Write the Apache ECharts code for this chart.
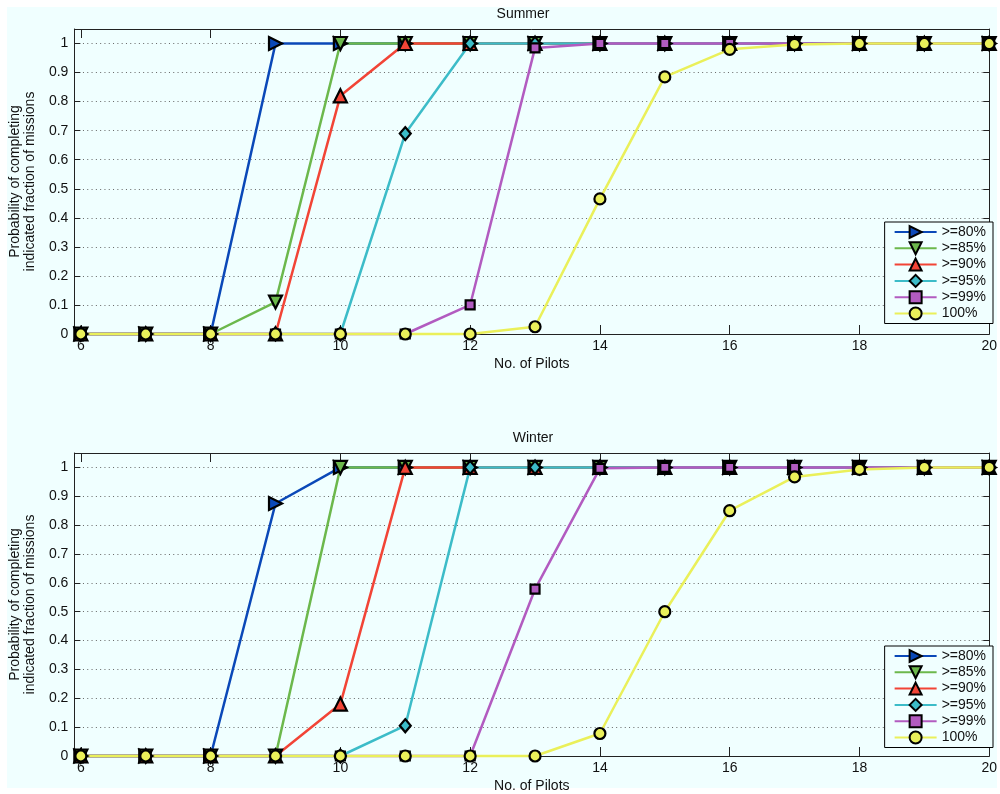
<!DOCTYPE html>
<html>
<head>
<meta charset="utf-8">
<script src="https://cdn.jsdelivr.net/npm/echarts@6/dist/echarts.min.js"></script>
<style>html,body{margin:0;padding:0;background:#fff;}#c{width:1000px;height:794px;}</style>
</head>
<body>
<div id="c"></div>
<script>
const pilots = [6,7,8,9,10,11,12,13,14,15,16,17,18,19,20];
const seriesNames = ['>=80%','>=85%','>=90%','>=95%','>=99%','100%'];
const xTicks = [6,8,10,12,14,16,18,20];
// Summer
const summer80  = [0,0,0,1,1,1,1,1,1,1,1,1,1,1,1];
const summer85  = [0,0,0,0.11,1,1,1,1,1,1,1,1,1,1,1];
const summer90  = [0,0,0,0,0.82,1,1,1,1,1,1,1,1,1,1];
const summer95  = [0,0,0,0,0,0.69,1,1,1,1,1,1,1,1,1];
const summer99  = [0,0,0,0,0,0,0.10,0.985,1,1,1,1,1,1,1];
const summer100 = [0,0,0,0,0,0,0,0.025,0.465,0.885,0.98,0.997,1,1,1];
// Winter
const winter80  = [0,0,0,0.875,1,1,1,1,1,1,1,1,1,1,1];
const winter85  = [0,0,0,0,1,1,1,1,1,1,1,1,1,1,1];
const winter90  = [0,0,0,0,0.18,1,1,1,1,1,1,1,1,1,1];
const winter95  = [0,0,0,0,0,0.105,1,1,1,1,1,1,1,1,1];
const winter99  = [0,0,0,0,0,0,0,0.578,0.997,1,1,1,1,1,1];
const winter100 = [0,0,0,0,0,0,0,0,0.078,0.50,0.85,0.967,0.993,1,1];

const colors = ['#0a48b8','#6cb84c','#f24436','#3cbcc8','#b25bc0','#eaf05a'];
const symbols = [
  {symbol:'triangle', rotate:-90, size:[13,13]},
  {symbol:'triangle', rotate:180, size:[13,13]},
  {symbol:'triangle', rotate:0, size:[13,13]},
  {symbol:'diamond', rotate:0, size:[11,13]},
  {symbol:'rect', rotate:0, size:[9,9]},
  {symbol:'circle', rotate:0, size:[11,11]}
];
const FONT = 'Liberation Sans';
const BG = '#f0ffff';
const AX = '#222';

const chart = echarts.init(document.getElementById('c'), null, {renderer:'canvas'});

const grids = [
  {left:68, top:29, width:925, height:305},
  {left:68, top:453, width:925, height:306}
];

function mkX(gi){
  return [
    {type:'value', gridIndex:gi, min:5.9, max:20, position:'bottom',
     name:'No. of Pilots', nameLocation:'middle', nameGap:23,
     nameTextStyle:{fontFamily:FONT, fontSize:14, color:'#111'},
     axisLine:{show:true, onZero:false, lineStyle:{color:AX, width:1}},
     axisTick:{show:true, inside:true, length:9, lineStyle:{color:AX}, customValues:xTicks},
     axisLabel:{show:true, margin:5, fontFamily:FONT, fontSize:14, color:'#111', customValues:xTicks},
     splitLine:{show:false}},
    {type:'value', gridIndex:gi, min:5.9, max:20, position:'top',
     axisLine:{show:true, onZero:false, lineStyle:{color:AX, width:1}},
     axisTick:{show:true, inside:true, length:9, lineStyle:{color:AX}, customValues:xTicks},
     axisLabel:{show:false, customValues:xTicks},
     splitLine:{show:false}}
  ];
}
function mkY(gi){
  return [
    {type:'value', gridIndex:gi, min:0, max:1.05, interval:0.1, position:'left',
     name:'Probability of completing\nindicated fraction of missions', nameLocation:'middle', nameGap:33,
     nameTextStyle:{fontFamily:FONT, fontSize:14, color:'#111', lineHeight:15},
     axisLine:{show:true, onZero:false, lineStyle:{color:AX, width:1}},
     axisTick:{show:true, inside:true, length:6, lineStyle:{color:AX}},
     axisLabel:{margin:6, fontFamily:FONT, fontSize:14, color:'#111',
       formatter:function(v){ return v > 1.01 ? '' : String(Math.round(v*10)/10); }},
     splitLine:{show:true, lineStyle:{color:'#666', width:1, type:[1,3.3]}}},
    {type:'value', gridIndex:gi, min:0, max:1.05, interval:0.1, position:'right',
     axisLine:{show:true, onZero:false, lineStyle:{color:AX, width:1}},
     axisTick:{show:true, inside:true, length:6, lineStyle:{color:AX}},
     axisLabel:{show:false},
     splitLine:{show:false}}
  ];
}

const dataSets = [
  [summer80, summer85, summer90, summer95, summer99, summer100],
  [winter80, winter85, winter90, winter95, winter99, winter100]
];

const series = [];
dataSets.forEach(function(set, gi){
  set.forEach(function(vals, si){
    series.push({
      type:'line', name:seriesNames[si],
      xAxisIndex: gi*2, yAxisIndex: gi*2,
      data: pilots.map(function(p, i){ return [p, vals[i]]; }),
      symbol: symbols[si].symbol, symbolRotate: symbols[si].rotate, symbolSize: symbols[si].size,
      showAllSymbol:true, clip:false, animation:false,
      lineStyle:{color:colors[si], width:2.5},
      itemStyle:{color:colors[si], borderColor:'#000', borderWidth:2.2},
      emphasis:{disabled:true}
    });
  });
});

function mkLegend(top){
  return {
    orient:'vertical', right:7, top:top,
    data: seriesNames,
    itemWidth:42, itemHeight:15, itemGap:2.3,
    padding:[3,7,3,9],
    backgroundColor:BG, borderColor:'#000', borderWidth:1,
    textStyle:{fontFamily:FONT, fontSize:14, color:'#111'},
    selectedMode:false
  };
}

chart.setOption({
  animation:false,
  backgroundColor:'#ffffff',
  graphic:[
    {type:'rect', z:-10, silent:true, shape:{x:7, y:7, width:990, height:781}, style:{fill:BG}},
    {type:'text', x:523, y:14, style:{text:'Summer', fontFamily:FONT, fontSize:14, fill:'#111', textAlign:'center', textVerticalAlign:'middle'}},
    {type:'text', x:533, y:438, style:{text:'Winter', fontFamily:FONT, fontSize:14, fill:'#111', textAlign:'center', textVerticalAlign:'middle'}}
  ],
  grid: grids.map(function(g){ return Object.assign({show:true, backgroundColor:BG, borderWidth:0}, g); }),
  xAxis: mkX(0).concat(mkX(1)),
  yAxis: mkY(0).concat(mkY(1)),
  legend:[mkLegend(222), mkLegend(646)],
  series: series
});
</script>
</body>
</html>
